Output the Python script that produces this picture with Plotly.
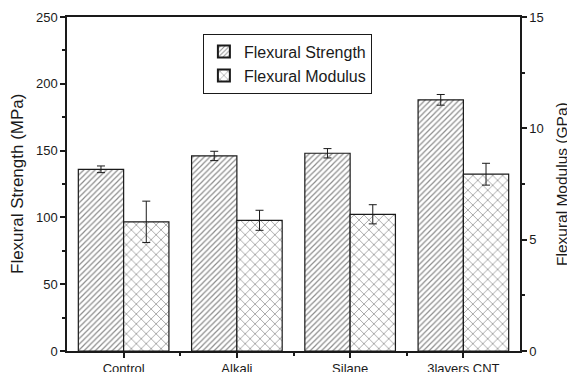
import plotly.graph_objects as go

categories = ["Control", "Alkali", "Silane", "3layers CNT"]
strength = [136, 146, 148, 188]
strength_err = [2.5, 3.5, 3.5, 4.0]
modulus = [5.8, 5.87, 6.14, 7.94]
modulus_err = [0.93, 0.45, 0.43, 0.49]

xpos = list(range(len(categories)))
font_family = "Liberation Sans, Arial, sans-serif"
ink = "#1a1a1a"

fig = go.Figure()
fig.add_trace(go.Bar(
    x=xpos, y=strength, name="Flexural Strength",
    width=0.4, offset=-0.4,
    marker=dict(color="white", line=dict(color=ink, width=1.2),
                pattern=dict(shape="/", size=4, solidity=0.3, fgcolor=ink, bgcolor="white")),
    error_y=dict(type="data", array=strength_err, color=ink, thickness=1, width=4),
    yaxis="y",
))
fig.add_trace(go.Bar(
    x=xpos, y=modulus, name="Flexural Modulus",
    width=0.4, offset=0.0,
    marker=dict(color="white", line=dict(color=ink, width=1.2),
                pattern=dict(shape="x", size=7, solidity=0.2, fgcolor=ink, bgcolor="white")),
    error_y=dict(type="data", array=modulus_err, color=ink, thickness=1, width=4),
    yaxis="y2",
))

axis_common = dict(ticks="outside", ticklen=5, tickwidth=1.5, tickcolor=ink,
                   showline=True, linecolor=ink, linewidth=1.5,
                   showgrid=False, zeroline=False, automargin=False,
                   tickfont=dict(size=13))

fig.update_layout(
    width=567, height=372,
    margin=dict(l=67, r=47, t=17, b=21),
    plot_bgcolor="white", paper_bgcolor="white",
    font=dict(family=font_family, size=13, color=ink),
    barmode="overlay",
    showlegend=True,
    legend=dict(x=0.30, y=0.95, xanchor="left", yanchor="top",
                bordercolor=ink, borderwidth=1, bgcolor="white",
                font=dict(size=16), tracegroupgap=0, itemsizing="constant"),
    xaxis=dict(range=[-0.5, 3.5], tickvals=xpos, ticktext=categories, mirror=True,
               minor=dict(tickvals=[0.5, 1.5, 2.5], ticks="outside", ticklen=3, tickcolor=ink),
               **axis_common),
    yaxis=dict(range=[0, 250], dtick=50,
               minor=dict(dtick=25, ticks="outside", ticklen=3, tickcolor=ink),
               **axis_common),
    yaxis2=dict(range=[0, 15], dtick=5, overlaying="y", side="right",
                minor=dict(dtick=2.5, ticks="outside", ticklen=3, tickcolor=ink),
                **axis_common),
    annotations=[
        dict(text="Flexural Strength (MPa)", textangle=-90, xref="paper", yref="paper",
             x=0, y=0.5, xanchor="center", yanchor="middle", xshift=-50,
             showarrow=False, font=dict(size=17)),
        dict(text="Flexural Modulus (GPa)", textangle=-90, xref="paper", yref="paper",
             x=1, y=0.5, xanchor="center", yanchor="middle", xshift=41,
             showarrow=False, font=dict(size=15.5)),
    ],
)

fig.write_html("out.html")
